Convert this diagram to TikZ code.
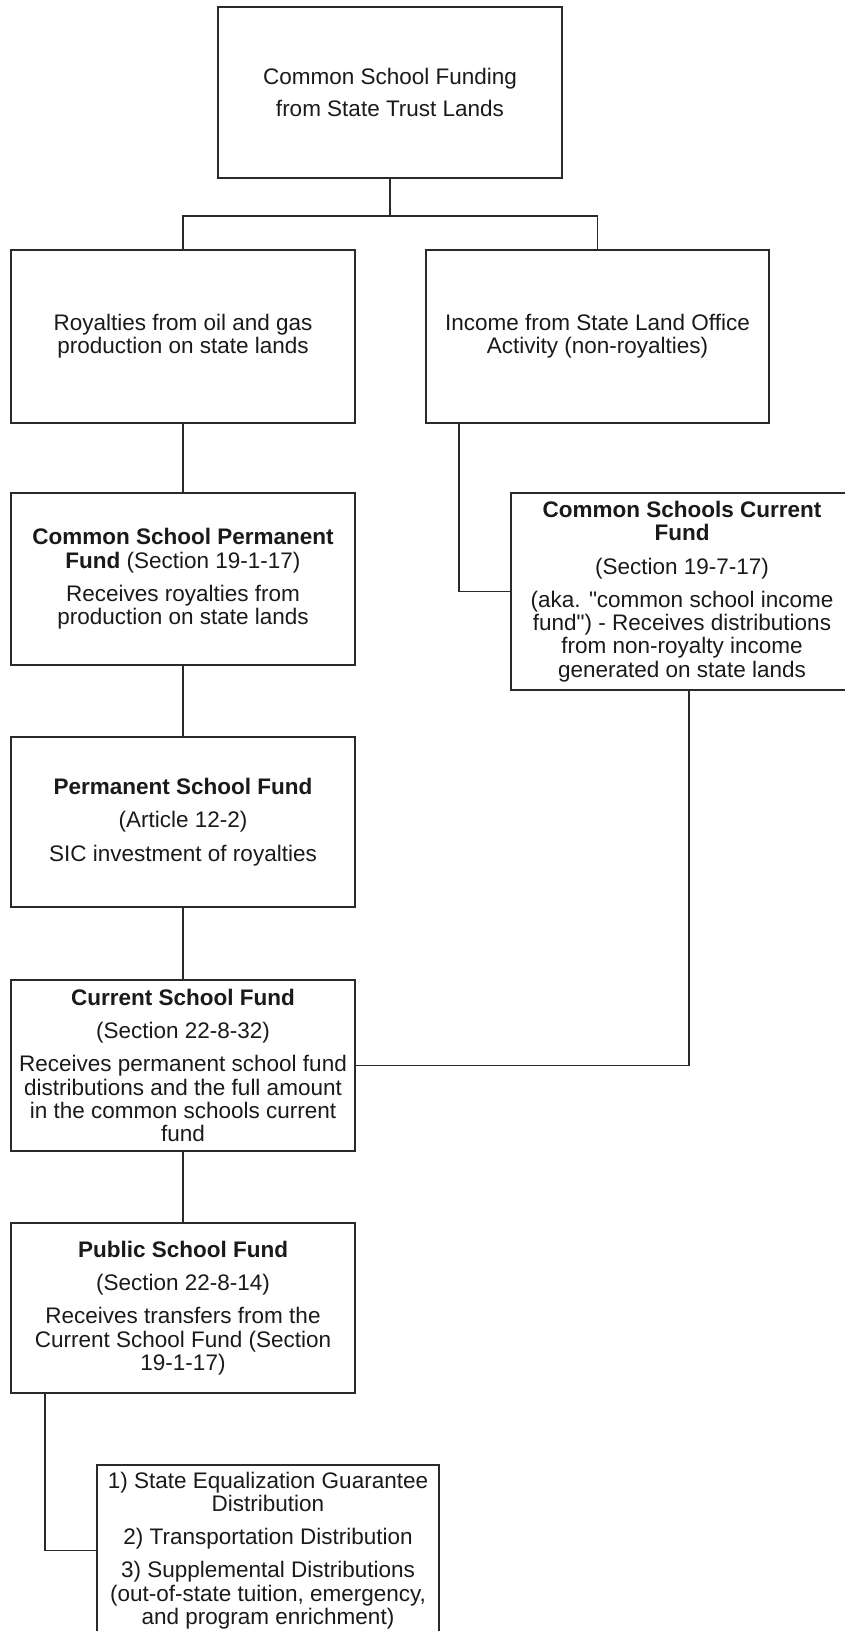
\documentclass[tikz,border=0pt]{standalone}
\usepackage{fontspec}
\setmainfont{Liberation Sans}[Ligatures=TeXOff]
\definecolor{linec}{HTML}{2A2A2A}
\definecolor{textc}{HTML}{1A1A1A}
\tikzset{
  fbox/.style={draw=linec, line width=2.5pt, fill=white, align=center, inner sep=0pt,
    text=textc, font=\fontsize{22.5}{23.3}\selectfont},
  conn/.style={draw=linec, line width=1.8pt}
}
\newcommand{\pgap}{\\[10pt]}
\begin{document}
\begin{tikzpicture}[x=1pt,y=-1pt]
\useasboundingbox (0,0) rectangle (845,1631);
\clip (0,0) rectangle (845,1631);
\fill[white] (0,0) rectangle (845,1631);

\node[fbox, minimum width=344pt, minimum height=171pt] (A) at (390,92.5)
  {Common School Funding\\[8pt]from State Trust Lands};
\node[fbox, minimum width=344pt, minimum height=173pt] (B) at (183,336.5)
  {Royalties from oil and gas\\production on state lands};
\node[fbox, minimum width=343pt, minimum height=173pt] (C) at (597.5,336.5)
  {Income from State Land Office\\Activity (non-royalties)};
\node[fbox, minimum width=344pt, minimum height=172pt] (D) at (183,579)
  {\textbf{Common School Permanent}\\\textbf{Fund} (Section 19-1-17)\pgap Receives royalties from\\production on state lands};
\node[fbox, minimum width=342pt, minimum height=197pt] (E) at (682,591.5)
  {\textbf{Common Schools Current}\\\textbf{Fund}\pgap (Section 19-7-17)\pgap (aka. "common school income\\fund") - Receives distributions\\from non-royalty income\\generated on state lands};
\node[fbox, minimum width=344pt, minimum height=170pt] (F) at (183,822)
  {\textbf{Permanent School Fund}\pgap (Article 12-2)\pgap SIC investment of royalties};
\node[fbox, minimum width=344pt, minimum height=171pt] (G) at (183,1065.5)
  {\textbf{Current School Fund}\pgap (Section 22-8-32)\pgap Receives permanent school fund\\distributions and the full amount\\in the common schools current\\fund};
\node[fbox, minimum width=344pt, minimum height=170pt] (H) at (183,1308)
  {\textbf{Public School Fund}\pgap (Section 22-8-14)\pgap Receives transfers from the\\Current School Fund (Section\\19-1-17)};
\node[fbox, minimum width=342pt, minimum height=171pt] (I) at (268,1550.5)
  {1) State Equalization Guarantee\\Distribution\pgap 2) Transportation Distribution\pgap 3) Supplemental Distributions\\(out-of-state tuition, emergency,\\and program enrichment)};

\draw[conn] (A.south) -- ++(0,37) coordinate (split) -| (B.north);
\draw[conn] (split) -| (C.north);
\draw[conn] (B.south) -- (D.north);
\draw[conn] ([xshift=34pt]C.south west) |- (E.west);
\draw[conn] (D.south) -- (F.north);
\draw[conn] (F.south) -- (G.north);
\draw[conn] ([xshift=179pt]E.south west) |- (G.east);
\draw[conn] (G.south) -- (H.north);
\draw[conn] ([xshift=35pt]H.south west) |- (I.west);
\end{tikzpicture}
\end{document}
